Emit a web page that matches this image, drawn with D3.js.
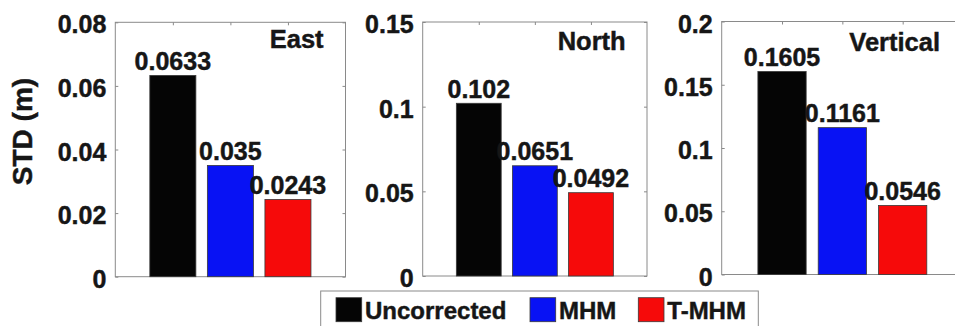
<!DOCTYPE html>
<html>
<head>
<meta charset="utf-8">
<script src="https://cdn.jsdelivr.net/npm/d3@7"></script>
<style>
  html, body { margin: 0; padding: 0; background: #fff; overflow: hidden; }
  svg { display: block; }
  text { font-family: "Liberation Sans", Arial, Helvetica, sans-serif; font-weight: bold; fill: #161616; stroke: #161616; stroke-width: 0.45px; }
</style>
</head>
<body>
<svg id="chart" width="955" height="326"></svg>
<script>
// Standard deviation of positioning error per component and correction method
const components = ["East", "North", "Vertical"];
const methods = ["Uncorrected", "MHM", "T-MHM"];
const uncorrected = [0.0633, 0.102, 0.1605];
const mhm = [0.035, 0.0651, 0.1161];
const tmhm = [0.0243, 0.0492, 0.0546];
const yMax = [0.08, 0.15, 0.2];
const yTicks = [
  [0, 0.02, 0.04, 0.06, 0.08],
  [0, 0.05, 0.1, 0.15],
  [0, 0.05, 0.1, 0.15, 0.2]
];
const yTickLabels = [
  ["0", "0.02", "0.04", "0.06", "0.08"],
  ["0", "0.05", "0.1", "0.15"],
  ["0", "0.05", "0.1", "0.15", "0.2"]
];

const seriesValues = [uncorrected, mhm, tmhm];
const colors = ["#050505", "#0812f4", "#f60a0a"];

// panel frames (pixels)
const frames = [
  { l: 115.3, r: 345.5, t: 22.3, b: 276.7 },
  { l: 422.7, r: 647.0, t: 22.0, b: 276.0 },
  { l: 721.7, r: 963.0, t: 21.5, b: 274.5 }
];
const titleDy = [25.5, 28, 29.2];
const axisColor = "#8a8a8a";

const svg = d3.select("#chart");

components.forEach((comp, p) => {
  const f = frames[p];
  const x = d3.scaleLinear().domain([0, 4]).range([f.l, f.r]);
  const y = d3.scaleLinear().domain([0, yMax[p]]).range([f.b, f.t]);
  const g = svg.append("g");

  // frame
  g.append("rect")
    .attr("x", f.l).attr("y", f.t)
    .attr("width", f.r - f.l).attr("height", f.b - f.t)
    .attr("fill", "none").attr("stroke", axisColor).attr("stroke-width", 1);

  // left axis with tick labels, ticks pointing inward
  const left = g.append("g").attr("transform", `translate(${f.l},0)`)
    .call(d3.axisLeft(y).tickValues(yTicks[p])
      .tickFormat((d, i) => yTickLabels[p][i])
      .tickSizeInner(-3).tickSizeOuter(0).tickPadding(9));
  left.select(".domain").remove();
  left.selectAll("line").attr("stroke", axisColor);
  left.selectAll("text").attr("font-size", 25).attr("dy", "0.42em")
    .style("font-family", '"Liberation Sans", Arial, sans-serif').style("font-weight", "bold").attr("fill", "#161616");

  // right axis ticks only
  const right = g.append("g").attr("transform", `translate(${f.r},0)`)
    .call(d3.axisRight(y).tickValues(yTicks[p]).tickFormat("").tickSizeInner(-3).tickSizeOuter(0));
  right.select(".domain").remove();
  right.selectAll("line").attr("stroke", axisColor);

  // top axis ticks at category positions
  const top = g.append("g").attr("transform", `translate(0,${f.t})`)
    .call(d3.axisTop(x).tickValues([1, 2, 3]).tickFormat("").tickSizeInner(-3).tickSizeOuter(0));
  top.select(".domain").remove();
  top.selectAll("line").attr("stroke", axisColor);

  // bars
  const bars = methods.map((m, i) => ({ m, i, v: seriesValues[i][p] }));
  const bw = x(0.8) - x(0);
  g.selectAll("rect.bar").data(bars).enter().append("rect")
    .attr("class", "bar")
    .attr("x", d => x(d.i + 1) - bw / 2)
    .attr("y", d => y(d.v))
    .attr("width", bw)
    .attr("height", d => y(0) - y(d.v))
    .attr("fill", d => colors[d.i])
    .attr("stroke", "#3a3a3a").attr("stroke-width", 0.8);

  // value labels
  g.selectAll("text.val").data(bars).enter().append("text")
    .attr("class", "val")
    .attr("x", d => x(d.i + 1))
    .attr("y", d => y(d.v) - 5.5)
    .attr("text-anchor", "middle")
    .attr("font-size", 25)
    .text(d => String(d.v));

  // component title
  g.append("text")
    .attr("x", x(3.62))
    .attr("y", f.t + titleDy[p])
    .attr("text-anchor", "end")
    .attr("font-size", 25.5)
    .text(comp);
});

// y-axis title
svg.append("text")
  .attr("transform", "translate(32,131.5) rotate(-90)")
  .attr("text-anchor", "middle")
  .attr("font-size", 28)
  .text("STD (m)");

// legend
const legend = svg.append("g");
legend.append("rect")
  .attr("x", 320.7).attr("y", 291).attr("width", 437.6).attr("height", 60)
  .attr("fill", "#fff").attr("stroke", axisColor).attr("stroke-width", 1);
const legendX = [336, 530, 638.3];
methods.forEach((m, i) => {
  legend.append("rect")
    .attr("x", legendX[i]).attr("y", 297.7).attr("width", 25.7).attr("height", 24)
    .attr("fill", colors[i]).attr("stroke", "#3a3a3a").attr("stroke-width", 0.8);
  legend.append("text")
    .attr("x", legendX[i] + 29).attr("y", 319.3)
    .attr("font-size", 24)
    .text(m);
});
</script>
</body>
</html>
